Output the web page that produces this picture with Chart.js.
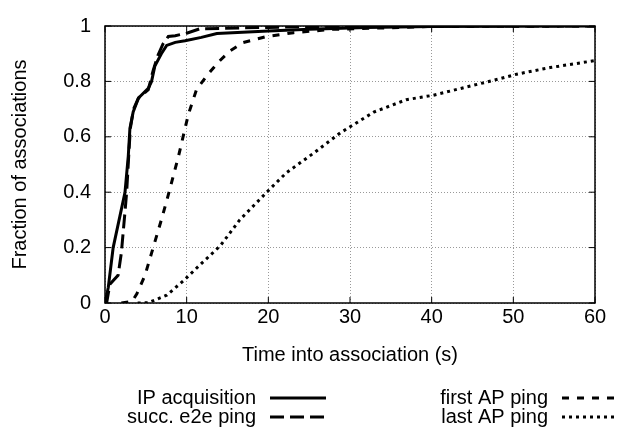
<!DOCTYPE html>
<html>
<head>
<meta charset="utf-8">
<script src="https://cdn.jsdelivr.net/npm/chart.js@4.4.1/dist/chart.umd.min.js"></script>
<style>
  html, body { margin: 0; padding: 0; background: #fff; }
  canvas { display: block; }
</style>
</head>
<body>
<canvas id="cdf" width="621" height="434"></canvas>
<script>
// CDF of time into association
const ipTime = [0, 0.4, 1.0, 1.8, 2.45, 2.85, 3.05, 3.45, 4.1, 5.3, 5.7, 6.1, 6.9, 7.55, 8.6, 9.8, 11.8, 13.7, 20, 25, 32, 40, 60];
const ipFrac = [0, 0.056, 0.2, 0.31, 0.40, 0.53, 0.63, 0.69, 0.74, 0.775, 0.80, 0.855, 0.90, 0.93, 0.941, 0.947, 0.959, 0.973, 0.982, 0.988, 0.995, 0.998, 1];

const e2eTime = [0, 0.2, 0.6, 1.6, 2.0, 2.45, 2.65, 2.9, 3.1, 3.5, 4.1, 5.3, 5.9, 6.5, 7.1, 7.75, 8.6, 10, 11.6, 20, 30, 60];
const e2eFrac = [0, 0, 0.068, 0.10, 0.18, 0.33, 0.40, 0.53, 0.63, 0.70, 0.74, 0.77, 0.84, 0.895, 0.935, 0.962, 0.965, 0.974, 0.99, 0.995, 1, 1];

const firstTime = [2.0, 3.3, 3.9, 4.9, 5.7, 6.9, 7.75, 9.0, 10.2, 11.2, 12.45, 13.9, 15.3, 16.9, 19.8, 23.1, 27.9, 34, 39.5, 60];
const firstFrac = [0, 0.005, 0.033, 0.10, 0.18, 0.30, 0.39, 0.53, 0.68, 0.77, 0.82, 0.87, 0.91, 0.94, 0.962, 0.976, 0.988, 0.993, 0.998, 1];

const lastTime = [4, 5.3, 7.55, 9.6, 11.6, 14.1, 16.5, 19.8, 22.2, 25.5, 28.8, 32.9, 36.9, 40.2, 44.3, 48.4, 50.4, 54.5, 60];
const lastFrac = [0, 0.001, 0.028, 0.08, 0.137, 0.206, 0.30, 0.40, 0.47, 0.54, 0.614, 0.689, 0.734, 0.75, 0.78, 0.81, 0.826, 0.85, 0.875];

const seriesLabels = ["IP acquisition", "succ. e2e ping", "first AP ping", "last AP ping"];
const xTicks = [0, 10, 20, 30, 40, 50, 60];
const yTicks = [0, 0.2, 0.4, 0.6, 0.8, 1];

const FONT = "'Liberation Sans', Arial, sans-serif";
const FS = 20;
const pts = (xs, ys) => xs.map((x, i) => ({ x, y: ys[i] }));

function series(label, xs, ys, dash) {
  return {
    label,
    data: pts(xs, ys),
    borderColor: "#000",
    borderWidth: 3,
    borderDash: dash,
    pointRadius: 0,
    tension: 0,
    fill: false,
  };
}

// gnuplot-ish frame with inward ticks on all four sides
const framePlugin = {
  id: "frame",
  afterDatasetsDraw(chart) {
    const { ctx, chartArea: a, scales } = chart;
    ctx.save();
    ctx.strokeStyle = "#000";
    ctx.lineWidth = 1.5;
    ctx.setLineDash([]);
    ctx.strokeRect(a.left, a.top, a.right - a.left, a.bottom - a.top);
    ctx.lineWidth = 1;
    ctx.beginPath();
    xTicks.forEach(v => {
      const px = scales.x.getPixelForValue(v);
      ctx.moveTo(px, a.bottom); ctx.lineTo(px, a.bottom - 6);
      ctx.moveTo(px, a.top); ctx.lineTo(px, a.top + 6);
    });
    yTicks.forEach(v => {
      const py = scales.y.getPixelForValue(v);
      ctx.moveTo(a.left, py); ctx.lineTo(a.left + 6, py);
      ctx.moveTo(a.right, py); ctx.lineTo(a.right - 6, py);
    });
    ctx.stroke();
    ctx.restore();
  },
};

// two-column key under the plot: text right-aligned, then a line sample
const keyPlugin = {
  id: "key",
  afterDraw(chart) {
    const { ctx } = chart;
    const cols = [{ textRight: 256, lineX: 270 }, { textRight: 548, lineX: 562 }];
    const rows = [398, 417];
    ctx.save();
    ctx.font = FS + "px " + FONT;
    ctx.fillStyle = "#000";
    ctx.textAlign = "right";
    ctx.textBaseline = "middle";
    chart.data.datasets.forEach((ds, i) => {
      const c = cols[Math.floor(i / 2)];
      const y = rows[i % 2];
      ctx.fillText(ds.label, c.textRight, y);
      ctx.beginPath();
      ctx.strokeStyle = "#000";
      ctx.lineWidth = 3;
      ctx.setLineDash(ds.borderDash || []);
      ctx.moveTo(c.lineX, y);
      ctx.lineTo(c.lineX + 56, y);
      ctx.stroke();
    });
    ctx.restore();
  },
};

new Chart(document.getElementById("cdf").getContext("2d"), {
  type: "line",
  data: {
    datasets: [
      series(seriesLabels[0], ipTime, ipFrac, []),
      series(seriesLabels[1], e2eTime, e2eFrac, [14, 6]),
      series(seriesLabels[2], firstTime, firstFrac, [7, 8]),
      series(seriesLabels[3], lastTime, lastFrac, [3, 4]),
    ],
  },
  options: {
    responsive: false,
    animation: false,
    layout: { padding: { left: 0, top: 13, right: 26, bottom: 0 } },
    plugins: { legend: { display: false }, tooltip: { enabled: false } },
    scales: {
      x: {
        type: "linear",
        min: 0, max: 60,
        afterBuildTicks: s => { s.ticks = xTicks.map(v => ({ value: v })); },
        afterFit: s => { s.height = 131; },
        ticks: { color: "#000", font: { family: FONT, size: FS }, padding: 2, maxRotation: 0,
                 callback: v => String(v) },
        grid: { color: "#999", lineWidth: 1, drawTicks: false },
        border: { display: false, dash: [1, 2] },
        title: {
          display: true,
          text: "Time into association (s)",
          color: "#000",
          font: { family: FONT, size: FS },
          padding: { top: 0, bottom: 67 },
        },
      },
      y: {
        min: 0, max: 1,
        afterBuildTicks: s => { s.ticks = yTicks.map(v => ({ value: v })); },
        afterFit: s => { s.width = 105; },
        ticks: { color: "#000", font: { family: FONT, size: FS }, padding: 14,
                 callback: v => String(+v.toFixed(1)) },
        grid: { color: "#999", lineWidth: 1, drawTicks: false },
        border: { display: false, dash: [1, 2] },
        title: {
          display: true,
          text: "Fraction of associations",
          color: "#000",
          font: { family: FONT, size: FS },
          padding: { top: 8, bottom: 0 },
        },
      },
    },
  },
  plugins: [framePlugin, keyPlugin],
});
</script>
</body>
</html>
